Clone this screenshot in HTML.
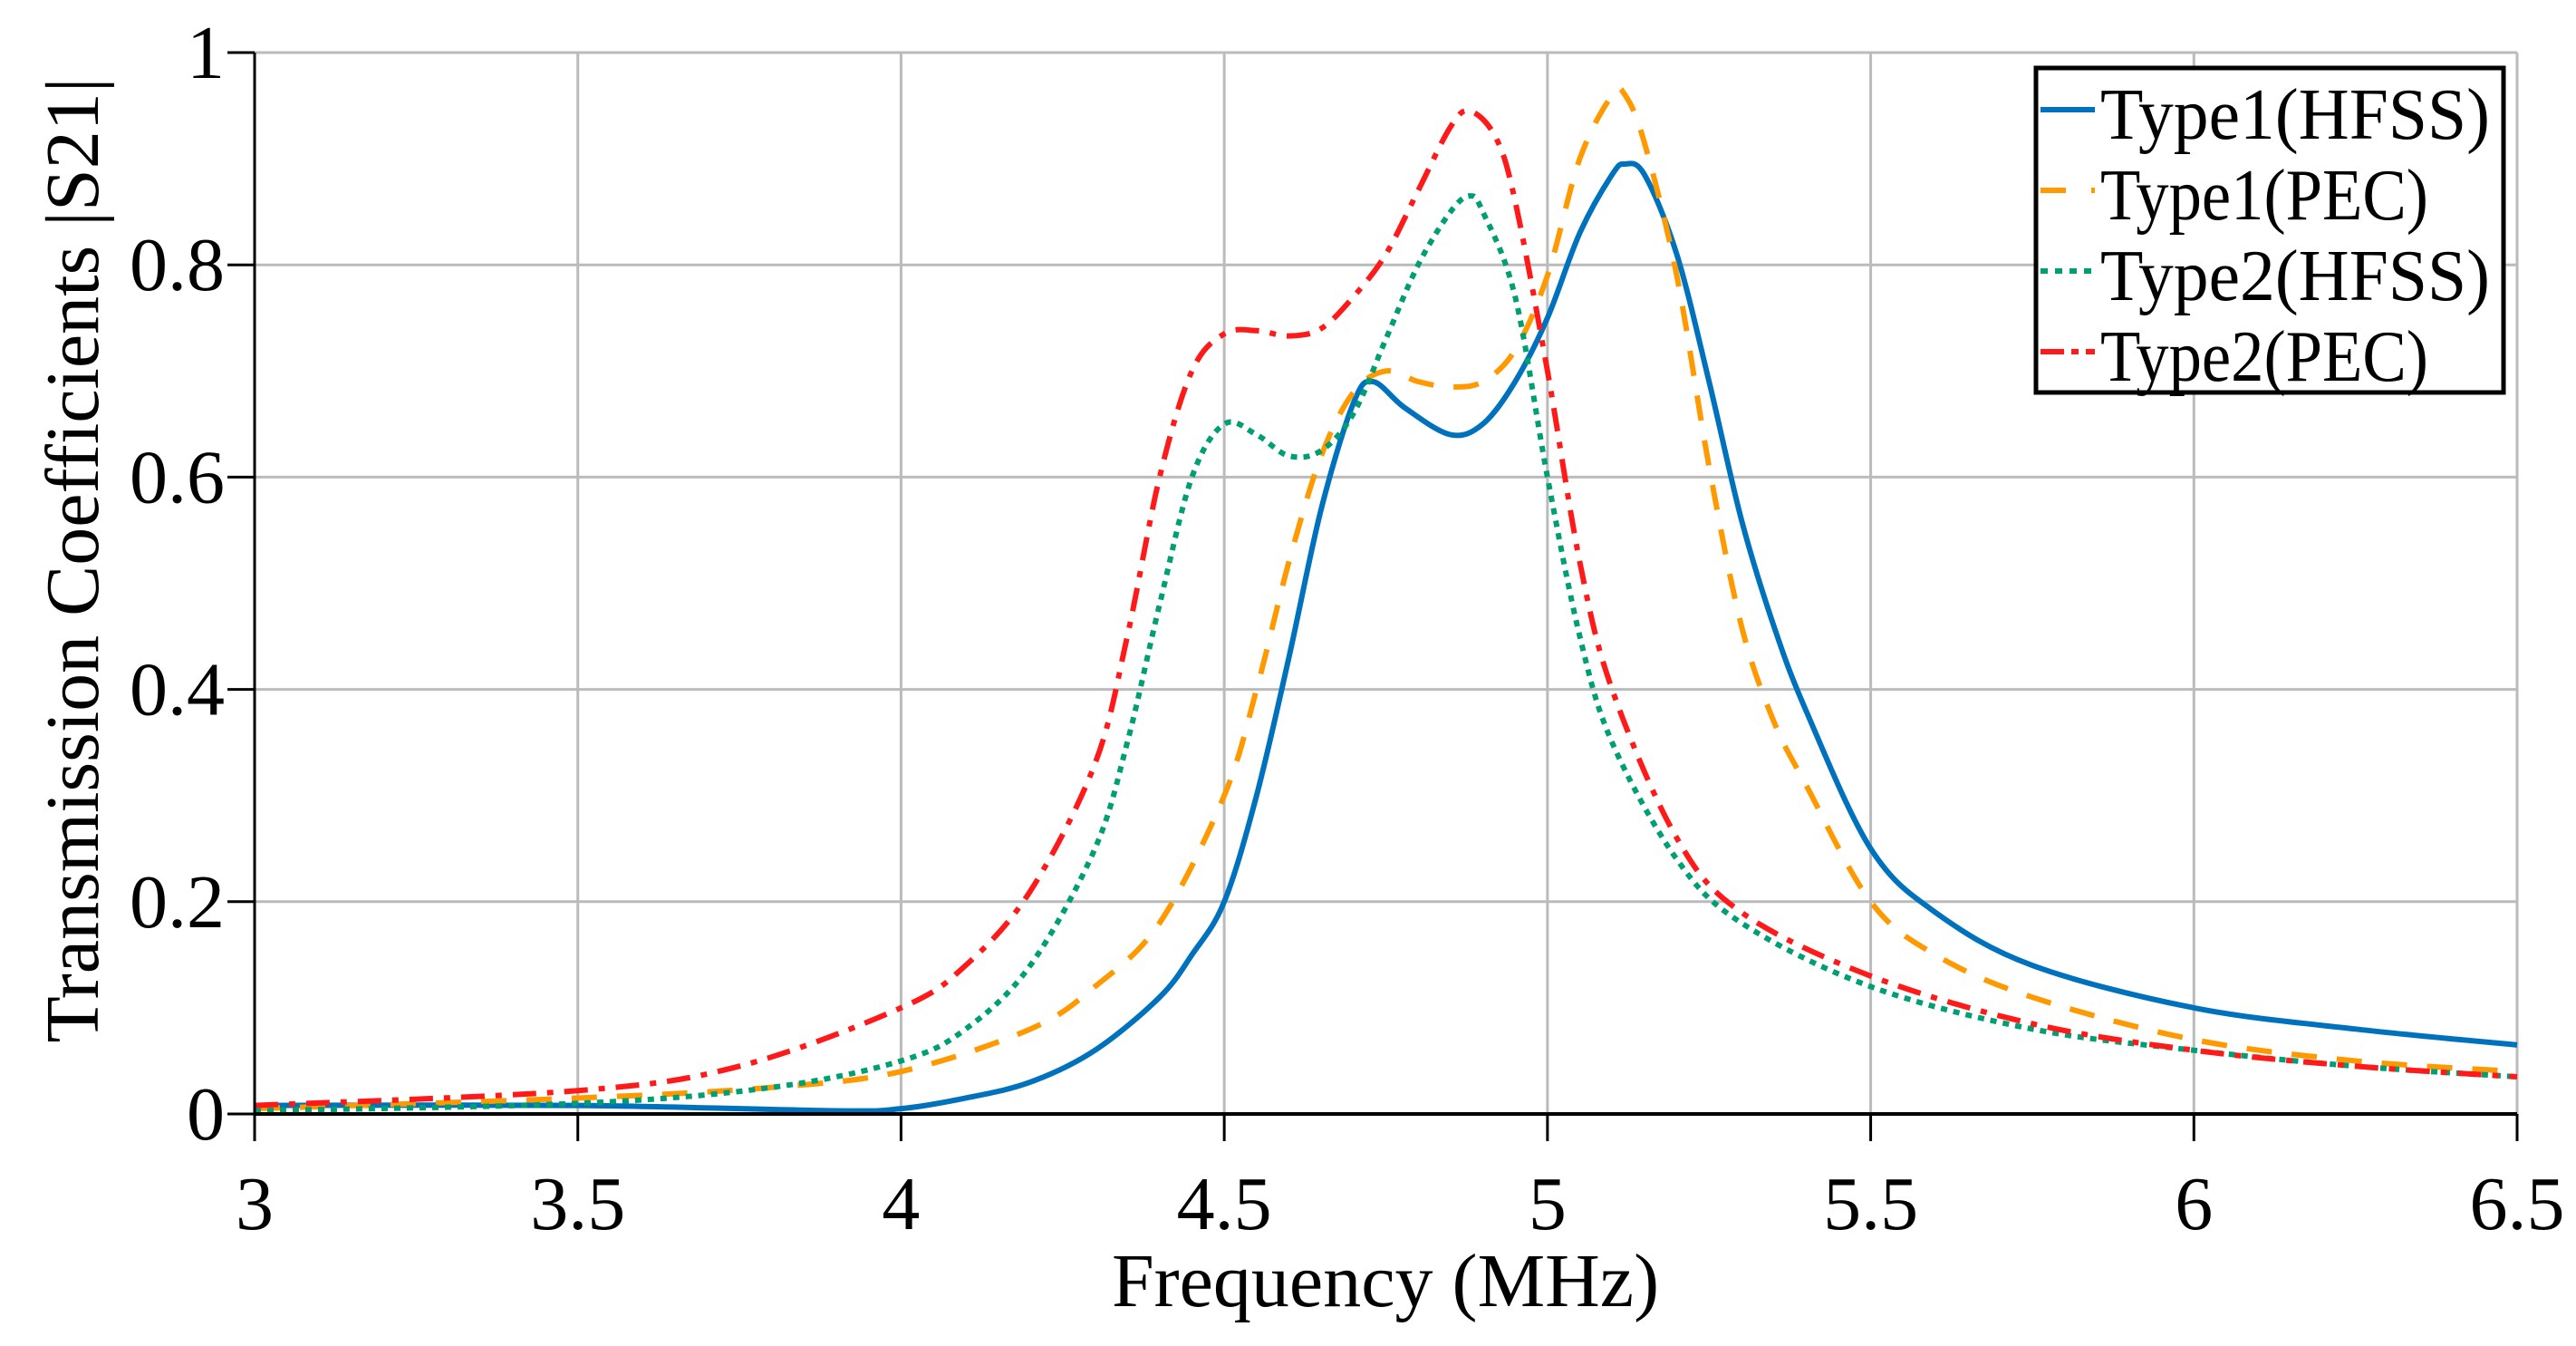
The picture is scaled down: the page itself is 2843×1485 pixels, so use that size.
<!DOCTYPE html>
<html><head><meta charset="utf-8"><style>
html,body{margin:0;padding:0;background:#fff}
svg{display:block}
text{font-family:"Liberation Serif",serif;fill:#000}
</style></head><body>
<svg id="chart" width="2843" height="1485" viewBox="0 0 2843 1485">
<g id="grid"></g>
<g id="series"></g>
<g id="axes"></g>
<text x="80" y="618" font-size="84" text-anchor="middle" transform="rotate(-90 80 618)" dy="28">Transmission Coefficients |S21|</text>
<text x="1529" y="1441" font-size="84" text-anchor="middle">Frequency (MHz)</text>
<g id="legend"></g>
</svg>
<script>
const xTicks=[3,3.5,4,4.5,5,5.5,6,6.5];
const yTicks=[0,0.2,0.4,0.6,0.8,1];
const xTickLabels=["3","3.5","4","4.5","5","5.5","6","6.5"];
const yTickLabels=["0","0.2","0.4","0.6","0.8","1"];
const seriesNames=["Type1(HFSS)","Type1(PEC)","Type2(HFSS)","Type2(PEC)"];
const t1hF=[3,3.5,3.9,4.0,4.1,4.2,4.3,4.4,4.45,4.5,4.55,4.6,4.65,4.7,4.73,4.78,4.85,4.9,4.95,5.0,5.05,5.1,5.12,5.15,5.2,5.25,5.3,5.35,5.4,5.5,5.6,5.75,6.0,6.25,6.5];
const t1hV=[0.008,0.008,0.003,0.005,0.015,0.03,0.06,0.11,0.15,0.2,0.3,0.43,0.57,0.67,0.69,0.665,0.64,0.65,0.69,0.75,0.83,0.885,0.895,0.885,0.81,0.69,0.56,0.46,0.38,0.25,0.19,0.14,0.1,0.08,0.065];
const t1pF=[3,3.5,3.8,4.0,4.2,4.3,4.4,4.5,4.55,4.6,4.65,4.7,4.75,4.8,4.85,4.9,4.95,5.0,5.05,5.1,5.12,5.15,5.2,5.25,5.3,5.35,5.4,5.5,5.6,5.75,6.0,6.25,6.5];
const t1pV=[0.005,0.015,0.025,0.04,0.08,0.12,0.18,0.3,0.4,0.52,0.62,0.68,0.7,0.69,0.685,0.69,0.72,0.79,0.9,0.96,0.96,0.915,0.79,0.61,0.46,0.37,0.31,0.2,0.15,0.11,0.07,0.05,0.04];
const t2hF=[3,3.5,3.8,4.0,4.1,4.2,4.3,4.35,4.4,4.45,4.5,4.55,4.6,4.65,4.7,4.75,4.8,4.85,4.88,4.9,4.95,5.0,5.05,5.1,5.2,5.3,5.5,5.75,6.0,6.25,6.5];
const t2hV=[0.003,0.01,0.025,0.05,0.08,0.14,0.25,0.35,0.48,0.6,0.65,0.64,0.62,0.625,0.66,0.73,0.8,0.85,0.865,0.85,0.77,0.6,0.45,0.35,0.24,0.18,0.12,0.08,0.06,0.045,0.035];
const t2pF=[3,3.5,3.75,4.0,4.1,4.2,4.3,4.35,4.4,4.45,4.5,4.55,4.6,4.65,4.7,4.75,4.8,4.85,4.88,4.92,4.95,5.0,5.05,5.1,5.2,5.3,5.5,5.75,6.0,6.25,6.5];
const t2pV=[0.008,0.022,0.045,0.1,0.14,0.21,0.33,0.45,0.6,0.7,0.735,0.738,0.733,0.74,0.77,0.81,0.87,0.93,0.945,0.92,0.86,0.7,0.52,0.4,0.26,0.19,0.13,0.085,0.06,0.045,0.035];

const L=281,R=2778,T=58,B=1229;
const xs=f=>L+(f-3)/3.5*(R-L);
const ys=v=>B-v*(B-T);
const NS="http://www.w3.org/2000/svg";
function mk(tag,attrs,parent){const e=document.createElementNS(NS,tag);for(const k in attrs)e.setAttribute(k,attrs[k]);parent.appendChild(e);return e;}
const grid=document.getElementById('grid'),axes=document.getElementById('axes'),ser=document.getElementById('series'),leg=document.getElementById('legend');
xTicks.forEach((t,i)=>{
  const g=mk('line',{x1:xs(t),x2:xs(t),y1:T,y2:B,stroke:'#bbb','stroke-width':3},grid);
  
  
  const tk=mk('line',{x1:xs(t),x2:xs(t),y1:B,y2:B+30,stroke:'#000','stroke-width':3},axes);
  
  
  const tx=mk('text',{x:xs(t),y:1356,'font-size':84,'text-anchor':'middle'},axes);
  tx.textContent=xTickLabels[i];
  
  
});
yTicks.forEach((t,i)=>{
  const g=mk('line',{x1:L,x2:R,y1:ys(t),y2:ys(t),stroke:'#bbb','stroke-width':3},grid);
  
  
  const tk=mk('line',{x1:L-30,x2:L,y1:ys(t),y2:ys(t),stroke:'#000','stroke-width':3},axes);
  
  
  const tx=mk('text',{x:248,y:ys(t)+28,'font-size':84,'text-anchor':'end'},axes);
  tx.textContent=yTickLabels[i];
  
  
});
const ya=mk('line',{x1:L,x2:L,y1:T,y2:B,stroke:'#000','stroke-width':3},axes);


const xa=mk('line',{x1:L,x2:R,y1:B,y2:B,stroke:'#000','stroke-width':4},axes);



function pathD(F,V){
  const p=F.map((f,i)=>[xs(f),ys(V[i])]);
  let d=`M${p[0][0]},${p[0][1]}`;
  for(let i=0;i<p.length-1;i++){
    const p0=p[Math.max(0,i-1)],p1=p[i],p2=p[i+1],p3=p[Math.min(p.length-1,i+2)];
    const c1=[p1[0]+(p2[0]-p0[0])/6,p1[1]+(p2[1]-p0[1])/6];
    const c2=[p2[0]-(p3[0]-p1[0])/6,p2[1]-(p3[1]-p1[1])/6];
    d+=` C${c1[0]},${c1[1]} ${c2[0]},${c2[1]} ${p2[0]},${p2[1]}`;
  }
  return d;
}
const styles=[
 {c:'#0072bd',dash:'',F:t1hF,V:t1hV,n:'series-type1-hfss'},
 {c:'#ff9900',dash:'28 22',F:t1pF,V:t1pV,n:'series-type1-pec'},
 {c:'#009e73',dash:'7 7',F:t2hF,V:t2hV,n:'series-type2-hfss'},
 {c:'#ff1a1a',dash:'26 12 7 12',F:t2pF,V:t2pV,n:'series-type2-pec'}];
styles.forEach(s=>{
  const p=mk('path',{d:pathD(s.F,s.V),fill:'none',stroke:s.c,'stroke-width':6,'stroke-dasharray':s.dash},ser);
  
  
});
const box=mk('rect',{x:2247,y:75,width:516,height:358,fill:'#fff',stroke:'#000','stroke-width':5},leg);


const legDash=['','28 28','8 8','26 8 8 8'];
seriesNames.forEach((n,i)=>{
  const y=161+i*89;
  const ln=mk('line',{x1:2252,x2:2312,y1:y-40,y2:y-40,stroke:styles[i].c,'stroke-width':6,'stroke-dasharray':legDash[i]},leg);
  
  
  const tx=mk('text',{x:2318,y:y-8,'font-size':80,textLength:430,lengthAdjust:'spacingAndGlyphs'},leg);
  if(n.indexOf('PEC')>=0) tx.setAttribute('textLength',362);
  tx.textContent=n;
  
  
});
</script>
</body></html>
